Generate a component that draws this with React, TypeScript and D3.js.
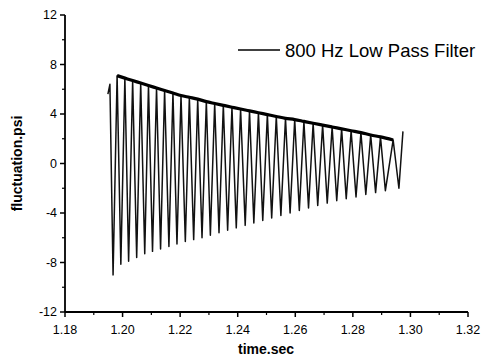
import React from "react";
import * as d3 from "d3";

const xTicks = [1.18, 1.2, 1.22, 1.24, 1.26, 1.28, 1.3, 1.32];
const yTicks = [-12, -8, -4, 0, 4, 8, 12];

// start of trace (hook)
const startTimes = [1.1949, 1.1956];
const startValues = [5.6, 6.4];

const peakTimes = [
  1.1981, 1.2008, 1.2035, 1.2063, 1.209, 1.2118, 1.2146, 1.2175, 1.2203, 1.2232,
  1.2261, 1.2291, 1.232, 1.235, 1.238, 1.241, 1.2441, 1.2472, 1.2503, 1.2534,
  1.2566, 1.2598, 1.263, 1.2662, 1.2695, 1.2728, 1.2761, 1.2794, 1.2828, 1.2862,
  1.2896, 1.294,
];
const peakValues = [
  7.1, 6.9, 6.7, 6.5, 6.3, 6.1, 5.9, 5.7, 5.5, 5.35, 5.2, 5.0, 4.85, 4.7,
  4.55, 4.4, 4.25, 4.1, 3.95, 3.8, 3.65, 3.55, 3.4, 3.25, 3.1, 2.95, 2.8, 2.65,
  2.5, 2.3, 2.15, 1.9,
];
const troughTimes = [
  1.1967, 1.1994, 1.2021, 1.2049, 1.2077, 1.2104, 1.2132, 1.2161, 1.2189, 1.2218,
  1.2247, 1.2276, 1.2305, 1.2335, 1.2365, 1.2395, 1.2426, 1.2456, 1.2487, 1.2518,
  1.255, 1.2582, 1.2614, 1.2646, 1.2678, 1.2711, 1.2744, 1.2777, 1.2811, 1.2845,
  1.2879, 1.2913, 1.296,
];
const troughValues = [
  -9.0, -8.15, -7.9, -7.6, -7.3, -7.1, -6.9, -6.7, -6.5, -6.3, -6.15, -6.0, -5.8,
  -5.6, -5.4, -5.2, -5.0, -4.8, -4.6, -4.4, -4.2, -4.0, -3.8, -3.6, -3.4, -3.2,
  -3.0, -2.85, -2.7, -2.5, -2.35, -2.2, -2.0,
];
// final spike
const endTimes = [1.2974];
const endValues = [2.6];

const W = 483;
const H = 360;
const left = 65;
const right = 468;
const top = 15;
const bottom = 312;

export default function App() {
  const x = d3.scaleLinear().domain([1.18, 1.32]).range([left, right]);
  const y = d3.scaleLinear().domain([-12, 12]).range([bottom, top]);

  const pts: [number, number][] = [];
  startTimes.forEach((t, i) => pts.push([t, startValues[i]]));
  for (let i = 0; i < troughTimes.length; i++) {
    pts.push([troughTimes[i], troughValues[i]]);
    if (i < peakTimes.length) pts.push([peakTimes[i], peakValues[i]]);
  }
  endTimes.forEach((t, i) => pts.push([t, endValues[i]]));

  const line = d3
    .line<[number, number]>()
    .x((d) => x(d[0]))
    .y((d) => y(d[1]));

  const env: [number, number][] = peakTimes.map((t, i) => [t, peakValues[i]]);
  const envLine = d3
    .line<[number, number]>()
    .x((d) => x(d[0]))
    .y((d) => y(d[1]))
    .curve(d3.curveMonotoneX);

  const xMinor = d3.range(0, 7).map((i) => 1.19 + i * 0.02);
  const yMinor = d3.range(0, 6).map((i) => -10 + i * 4);
  const font = "Liberation Sans, Arial, sans-serif";

  return (
    <svg width={W} height={H} style={{ position: "absolute", left: 0, top: 0 }}>
      <rect width={W} height={H} fill="#fff" />
      <path d={line(pts) || ""} fill="none" stroke="#111" strokeWidth={1.5} strokeLinejoin="round" />
      <path d={envLine(env) || ""} fill="none" stroke="#000" strokeWidth={3.2} />
      {/* axes */}
      <line x1={left} x2={left} y1={top} y2={bottom} stroke="#000" strokeWidth={1.8} />
      <line x1={left} x2={right} y1={bottom} y2={bottom} stroke="#000" strokeWidth={1.8} />
      {yTicks.map((v) => (
        <g key={"y" + v}>
          <line x1={left - 5} x2={left} y1={y(v)} y2={y(v)} stroke="#000" strokeWidth={1.5} />
          <text x={left - 8} y={y(v)} dy="0.35em" textAnchor="end" fontFamily={font} fontSize={12.5} fill="#000">
            {v}
          </text>
        </g>
      ))}
      {yMinor.map((v) => (
        <line key={"ym" + v} x1={left - 3} x2={left} y1={y(v)} y2={y(v)} stroke="#000" strokeWidth={1.2} />
      ))}
      {xTicks.map((v) => (
        <g key={"x" + v}>
          <line x1={x(v)} x2={x(v)} y1={bottom} y2={bottom + 5} stroke="#000" strokeWidth={1.5} />
          <text x={x(v)} y={bottom + 22} textAnchor="middle" fontFamily={font} fontSize={12.5} fill="#000">
            {v.toFixed(2)}
          </text>
        </g>
      ))}
      {xMinor.map((v) => (
        <line key={"xm" + v} x1={x(v)} x2={x(v)} y1={bottom} y2={bottom + 3} stroke="#000" strokeWidth={1.2} />
      ))}
      <text x={266} y={354} textAnchor="middle" fontFamily={font} fontSize={14} fontWeight="bold" fill="#000">
        time.sec
      </text>
      <text
        transform={`translate(22,${y(0)}) rotate(-90)`}
        textAnchor="middle"
        fontFamily={font}
        fontSize={14}
        fontWeight="bold"
        fill="#000"
      >
        fluctuation.psi
      </text>
      {/* legend */}
      <line x1={238} x2={280} y1={50} y2={50} stroke="#000" strokeWidth={1.3} />
      <text x={285} y={56.5} fontFamily={font} fontSize={18.5} fill="#000">
        800 Hz Low Pass Filter
      </text>
    </svg>
  );
}
